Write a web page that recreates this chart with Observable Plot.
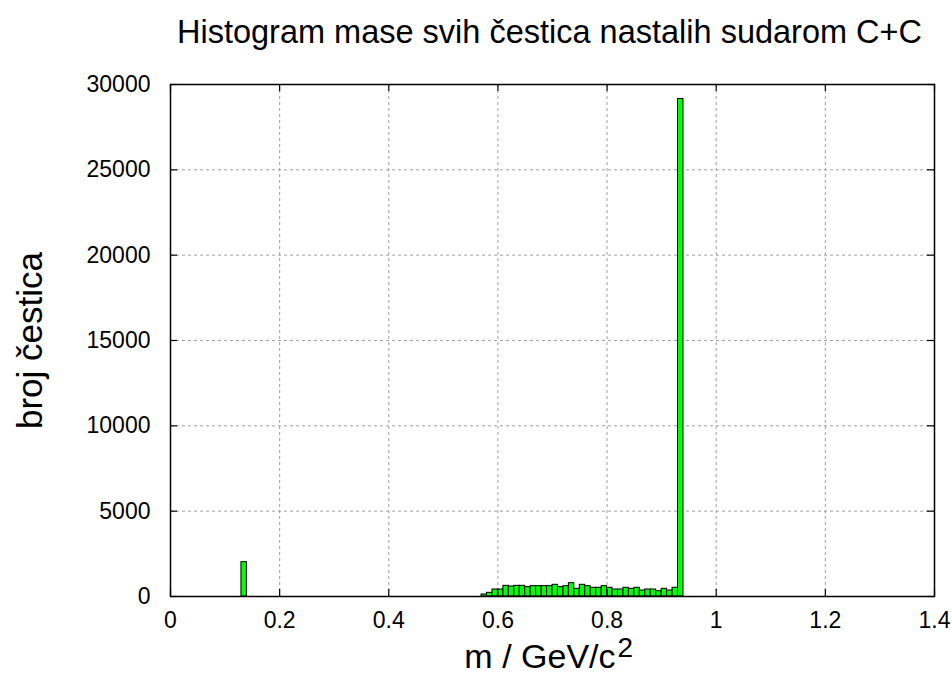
<!DOCTYPE html>
<html>
<head>
<meta charset="utf-8">
<script src="https://cdn.jsdelivr.net/npm/d3@7"></script>
<script src="https://cdn.jsdelivr.net/npm/@observablehq/plot@0.6"></script>
<style>
  html, body { margin: 0; padding: 0; background: #fff; }
  #chart svg { display: block; }
</style>
</head>
<body>
<div id="chart"></div>
<script>
// ---- data ----
const title = "Histogram mase svih čestica nastalih sudarom C+C";
const yLabel = "broj čestica";
const xLabelMain = "m / GeV/c";
const xLabelSup = "2";
const binWidth = 0.01;
const binStart = [0.13, 0.57, 0.58, 0.59, 0.60, 0.61, 0.62, 0.63, 0.64, 0.65, 0.66, 0.67, 0.68, 0.69,
  0.70, 0.71, 0.72, 0.73, 0.74, 0.75, 0.76, 0.77, 0.78, 0.79, 0.80, 0.81, 0.82, 0.83, 0.84, 0.85,
  0.86, 0.87, 0.88, 0.89, 0.90, 0.91, 0.92, 0.93];
const counts = [2010, 120, 215, 410, 410, 625, 585, 625, 625, 550, 605, 605, 605, 605,
  685, 550, 605, 780, 450, 685, 605, 510, 510, 605, 510, 410, 410, 510, 450, 510,
  350, 410, 410, 310, 450, 350, 510, 29150];
const xTicks = [0, 0.2, 0.4, 0.6, 0.8, 1, 1.2, 1.4];
const xTickLabels = ["0", "0.2", "0.4", "0.6", "0.8", "1", "1.2", "1.4"];
const yTicks = [0, 5000, 10000, 15000, 20000, 25000, 30000];
const yTickLabels = ["0", "5000", "10000", "15000", "20000", "25000", "30000"];

const bins = binStart.map((s, i) => ({x1: s, x2: s + binWidth, count: counts[i]}));

const W = 952, H = 675;
const mL = 170, mR = 18, mT = 84, mB = 79;
const innerW = W - mL - mR, innerH = H - mT - mB;
const tickLen = 7;
const font = "'Liberation Sans', Arial, sans-serif";

const plot = Plot.plot({
  width: W,
  height: H,
  marginLeft: mL, marginRight: mR, marginTop: mT, marginBottom: mB,
  style: {fontFamily: font, fontSize: "23px", color: "#000", background: "#fff"},
  x: {domain: [0, 1.4]},
  y: {domain: [0, 30000]},
  marks: [
    Plot.gridX(xTicks, {stroke: "#a0a0a0", strokeOpacity: 1, strokeDasharray: "3,3", strokeWidth: 1}),
    Plot.gridY(yTicks, {stroke: "#a0a0a0", strokeOpacity: 1, strokeDasharray: "3,3", strokeWidth: 1}),
    Plot.rectY(bins, {x1: "x1", x2: "x2", y: "count", fill: "#00ff00", stroke: "#000", strokeWidth: 1}),
    // inward ticks (gnuplot style, mirrored)
    Plot.tickX(xTicks, {x: d => d, insetTop: innerH - tickLen, stroke: "#000", strokeWidth: 1.2}),
    Plot.tickX(xTicks, {x: d => d, insetBottom: innerH - tickLen, stroke: "#000", strokeWidth: 1.2}),
    Plot.tickY(yTicks, {y: d => d, insetRight: innerW - tickLen, stroke: "#000", strokeWidth: 1.2}),
    Plot.tickY(yTicks, {y: d => d, insetLeft: innerW - tickLen, stroke: "#000", strokeWidth: 1.2}),
    Plot.frame({stroke: "#000", strokeWidth: 1.5}),
    Plot.axisX(xTicks, {anchor: "bottom", tickSize: 0, tickPadding: 15, label: null,
      tickFormat: (d) => xTickLabels[xTicks.indexOf(d)], fontSize: 23}),
    Plot.axisY(yTicks, {anchor: "left", tickSize: 0, tickPadding: 20, label: null,
      tickFormat: (d) => yTickLabels[yTicks.indexOf(d)], fontSize: 23}),
    Plot.text([title], {text: d => d, frameAnchor: "top", dx: -3, dy: -65, fontSize: 32.5, fill: "#000"}),
    Plot.text([yLabel], {text: d => d, frameAnchor: "left", textAnchor: "middle", rotate: -90, dx: -140, fontSize: 35, fill: "#000"}),
    Plot.text([xLabelMain], {text: d => d, frameAnchor: "bottom", textAnchor: "end", dx: 63, dy: 71, fontSize: 34, fill: "#000"}),
    Plot.text([xLabelSup], {text: d => d, frameAnchor: "bottom", textAnchor: "start", dx: 65, dy: 60, fontSize: 28, fill: "#000"})
  ]
});
document.getElementById("chart").appendChild(plot);
</script>
</body>
</html>
